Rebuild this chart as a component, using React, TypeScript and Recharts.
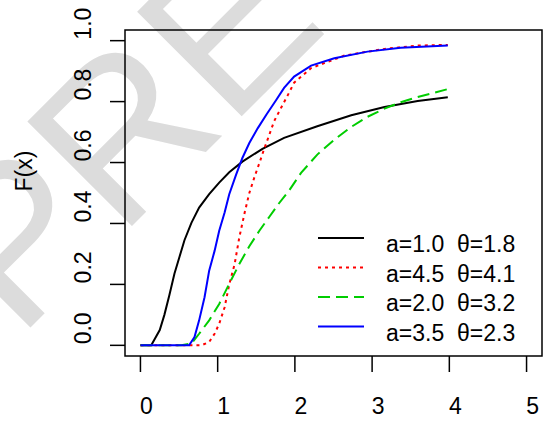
import { LineChart, Line, XAxis, YAxis, ReferenceArea } from 'recharts';

type Pt = { x: number; F: number };

const xTicks = [0, 1, 2, 3, 4, 5];
const yTicks = [0, 0.2, 0.4, 0.6, 0.8, 1];

// x and F(x)
const black: Pt[] = [
  { x: 0, F: 0 }, { x: 0.14, F: 0 }, { x: 0.25, F: 0.05 }, { x: 0.31, F: 0.1 }, { x: 0.375, F: 0.165 },
  { x: 0.44, F: 0.235 }, { x: 0.505, F: 0.29 }, { x: 0.57, F: 0.345 }, { x: 0.66, F: 0.402 }, { x: 0.76, F: 0.452 },
  { x: 0.89, F: 0.496 }, { x: 1.02, F: 0.534 }, { x: 1.15, F: 0.568 }, { x: 1.32, F: 0.603 }, { x: 1.58, F: 0.645 },
  { x: 1.86, F: 0.681 }, { x: 2.29, F: 0.719 }, { x: 2.73, F: 0.755 }, { x: 3.16, F: 0.782 }, { x: 3.59, F: 0.802 },
  { x: 3.98, F: 0.814 },
];
const red: Pt[] = [
  { x: 0, F: 0 }, { x: 0.79, F: 0 }, { x: 0.89, F: 0.011 }, { x: 0.96, F: 0.038 }, { x: 1.02, F: 0.071 },
  { x: 1.09, F: 0.125 }, { x: 1.15, F: 0.2 }, { x: 1.22, F: 0.267 }, { x: 1.28, F: 0.354 }, { x: 1.35, F: 0.436 },
  { x: 1.41, F: 0.5 }, { x: 1.48, F: 0.555 }, { x: 1.54, F: 0.598 }, { x: 1.6, F: 0.643 }, { x: 1.67, F: 0.692 },
  { x: 1.73, F: 0.735 }, { x: 1.82, F: 0.779 }, { x: 1.91, F: 0.822 }, { x: 1.99, F: 0.862 }, { x: 2.21, F: 0.91 },
  { x: 2.64, F: 0.951 }, { x: 3.16, F: 0.973 }, { x: 3.59, F: 0.984 }, { x: 3.98, F: 0.986 },
];
const green: Pt[] = [
  { x: 0, F: 0 }, { x: 0.53, F: 0 }, { x: 0.66, F: 0.006 }, { x: 0.76, F: 0.038 }, { x: 0.89, F: 0.082 },
  { x: 1.02, F: 0.136 }, { x: 1.15, F: 0.202 }, { x: 1.28, F: 0.267 }, { x: 1.41, F: 0.325 }, { x: 1.54, F: 0.376 },
  { x: 1.67, F: 0.422 }, { x: 1.8, F: 0.468 }, { x: 1.93, F: 0.51 }, { x: 2.08, F: 0.566 }, { x: 2.29, F: 0.626 },
  { x: 2.51, F: 0.675 }, { x: 2.73, F: 0.717 }, { x: 2.94, F: 0.75 }, { x: 3.16, F: 0.777 }, { x: 3.37, F: 0.798 },
  { x: 3.59, F: 0.815 }, { x: 3.98, F: 0.841 },
];
const blue: Pt[] = [
  { x: 0, F: 0 }, { x: 0.63, F: 0 }, { x: 0.7, F: 0.027 }, { x: 0.76, F: 0.082 }, { x: 0.83, F: 0.158 },
  { x: 0.89, F: 0.245 }, { x: 0.96, F: 0.31 }, { x: 1.02, F: 0.376 }, { x: 1.09, F: 0.436 }, { x: 1.15, F: 0.496 },
  { x: 1.24, F: 0.561 }, { x: 1.32, F: 0.615 }, { x: 1.41, F: 0.664 }, { x: 1.52, F: 0.713 }, { x: 1.63, F: 0.757 },
  { x: 1.76, F: 0.806 }, { x: 1.86, F: 0.845 }, { x: 1.99, F: 0.882 }, { x: 2.21, F: 0.918 }, { x: 2.51, F: 0.942 },
  { x: 2.94, F: 0.964 }, { x: 3.37, F: 0.977 }, { x: 3.98, F: 0.984 },
];

const aLabels = ['a=1.0', 'a=4.5', 'a=2.0', 'a=3.5'];
const thetaLabels = ['θ=1.8', 'θ=4.1', 'θ=3.2', 'θ=2.3'];

const series = [
  { data: black, color: '#000000', dash: undefined as string | undefined },
  { data: red, color: '#ff0000', dash: '3 4' },
  { data: green, color: '#00cd00', dash: '12 6' },
  { data: blue, color: '#0000ff', dash: undefined },
];

const FONT = '"Liberation Sans", Arial, Helvetica, sans-serif';

const XTick = ({ x, y, payload }: any) => (
  <text x={x + 6} y={y + 40} textAnchor="middle" fontSize={23} fontFamily={FONT} fill="#000">
    {payload.value}
  </text>
);

const YTick = ({ x, y, payload }: any) => {
  const bx = x - 16.5;
  const cy = y - 17;
  return (
    <text x={bx} y={cy} transform={`rotate(-90, ${bx}, ${cy})`} textAnchor="middle" fontSize={23} fontFamily={FONT} fill="#000">
      {Number(payload.value).toFixed(1)}
    </text>
  );
};

export default function App() {
  return (
    <div style={{ position: 'absolute', left: 0, top: 0, width: 544, height: 421, background: '#fff', overflow: 'hidden' }}>
      <svg width={544} height={421} style={{ position: 'absolute', left: 0, top: 0 }}>
        <text x={18} y={340} transform="rotate(-45, 18, 340)" fontSize={215} fontFamily={FONT} fill="#dcdcdc">
          PREVIEW
        </text>
        <text x={32} y={171} transform="rotate(-90, 32, 171)" textAnchor="middle" fontSize={23} fontFamily={FONT} fill="#000">
          F(x)
        </text>
      </svg>
      <div style={{ position: 'absolute', left: 0, top: 0 }}>
        <LineChart width={544} height={421} margin={{ top: 30, right: 2, bottom: 0, left: 65 }}>
          <XAxis
            dataKey="x"
            type="number"
            domain={[-0.2, 5.2]}
            ticks={xTicks}
            allowDataOverflow
            axisLine={false}
            tickLine={{ stroke: '#000', strokeWidth: 1.5 }}
            tickSize={16}
            tick={<XTick />}
            height={65}
          />
          <YAxis
            type="number"
            domain={[-0.035, 1.035]}
            ticks={yTicks}
            allowDataOverflow
            axisLine={false}
            tickLine={{ stroke: '#000', strokeWidth: 1.5 }}
            tickSize={15}
            tick={<YTick />}
            width={60}
          />
          {series.map((s, i) => (
            <Line
              key={i}
              data={s.data}
              dataKey="F"
              type="linear"
              stroke={s.color}
              strokeWidth={2}
              strokeDasharray={s.dash}
              dot={false}
              activeDot={false}
              isAnimationActive={false}
            />
          ))}
          <ReferenceArea x1={-0.2} x2={5.2} y1={-0.035} y2={1.035} fill="none" stroke="#000" strokeWidth={1.5} ifOverflow="visible" />
        </LineChart>
      </div>
      <svg width={544} height={421} style={{ position: 'absolute', left: 0, top: 0, pointerEvents: 'none' }}>
        {series.map((s, i) => {
          const ly = 238 + 29.5 * i;
          return (
            <g key={i}>
              <line x1={318} x2={364} y1={ly} y2={ly} stroke={s.color} strokeWidth={2} strokeDasharray={s.dash} />
              <text x={386} y={ly + 14} fontSize={23} fontFamily={FONT} fill="#000">{aLabels[i]}</text>
              <text x={457} y={ly + 14} fontSize={23} fontFamily={FONT} fill="#000">{thetaLabels[i]}</text>
            </g>
          );
        })}
      </svg>
    </div>
  );
}
